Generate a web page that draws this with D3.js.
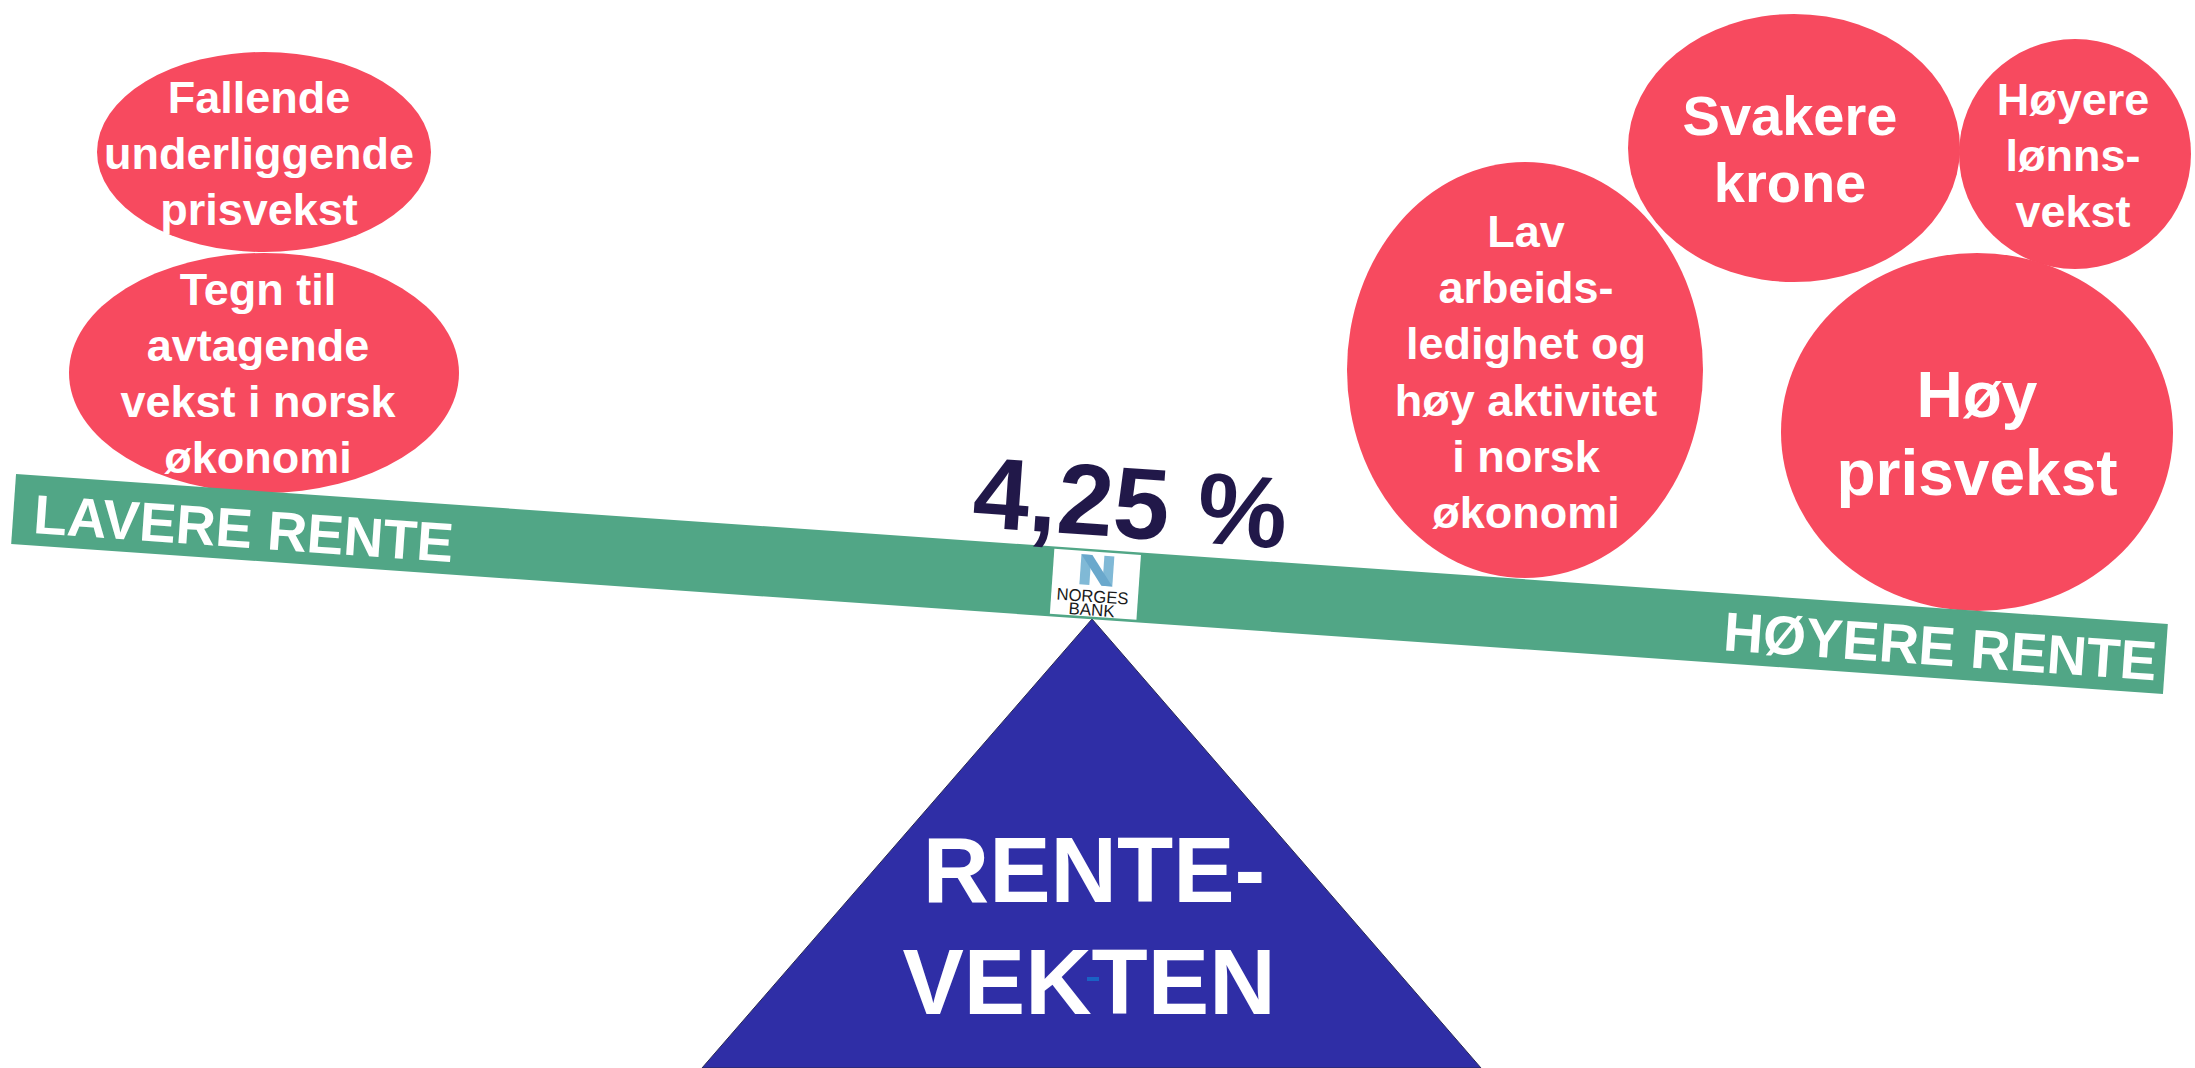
<!DOCTYPE html>
<html>
<head>
<meta charset="utf-8">
<script src="https://cdn.jsdelivr.net/npm/d3@7"></script>
<style>
  html, body { margin: 0; padding: 0; background: #ffffff; }
  svg { display: block; }
  text { font-family: "Liberation Sans", Arial, Helvetica, sans-serif; }
</style>
</head>
<body>
<div id="chart"></div>
<script>
// ---- data ----
const policyRate = "4,25 %";
const leftSideLabel = "LAVERE RENTE";
const rightSideLabel = "HØYERE RENTE";
const fulcrumLines = ["RENTE-", "VEKTEN"];
const logoLines = ["NORGES", "BANK"];

const factorFalling   = ["Fallende", "underliggende", "prisvekst"];
const factorSlowing   = ["Tegn til", "avtagende", "vekst i norsk", "økonomi"];
const factorActivity  = ["Lav", "arbeids-", "ledighet og", "høy aktivitet", "i norsk", "økonomi"];
const factorKrone     = ["Svakere", "krone"];
const factorWages     = ["Høyere", "lønns-", "vekst"];
const factorInflation = ["Høy", "prisvekst"];

// ---- layout (positions / sizes) ----
const W = 2195, H = 1068;
const colors = { bubble: "#f74a5f", beam: "#51a686", fulcrum: "#2f2ea6", rate: "#211849", logoN: "#80b9d6", logoN2: "#6aa8cc" };

const bubbleLayout = [
  { lines: factorFalling,   cx: 264,  cy: 152, rx: 167, ry: 100, tx: 259,  y0: 113, lh: 56, fs: 45 },
  { lines: factorSlowing,   cx: 264,  cy: 373, rx: 195, ry: 120, tx: 258,  y0: 305, lh: 56, fs: 45 },
  { lines: factorActivity,  cx: 1525, cy: 370, rx: 178, ry: 208, tx: 1526, y0: 247, lh: 56.2, fs: 45 },
  { lines: factorKrone,     cx: 1794, cy: 148, rx: 166, ry: 134, tx: 1790, y0: 135, lh: 67, fs: 56 },
  { lines: factorWages,     cx: 2075, cy: 154, rx: 116, ry: 115, tx: 2073, y0: 115, lh: 56, fs: 45 },
  { lines: factorInflation, cx: 1977, cy: 432, rx: 196, ry: 179, tx: 1977, y0: 417, lh: 78, fs: 64 }
];

const svg = d3.select("#chart").append("svg")
  .attr("width", W).attr("height", H)
  .attr("viewBox", `0 0 ${W} ${H}`);

svg.append("rect").attr("width", W).attr("height", H).attr("fill", "#fff");

// ---- fulcrum triangle ----
const apex = [1092, 619];
const tri = d3.line()([apex, [702, 1068], [1481, 1068]]) + "Z";
svg.append("path").attr("d", tri)
  .attr("fill", colors.fulcrum).attr("stroke", "#2a2a55").attr("stroke-width", 1);

svg.selectAll("text.fulcrum").data(fulcrumLines).join("text")
  .attr("class", "fulcrum")
  .attr("x", (d, i) => i === 0 ? 1094 : 1089)
  .attr("y", (d, i) => 902 + i * 112)
  .attr("text-anchor", "middle")
  .attr("font-size", 92).attr("font-weight", "bold")
  .attr("fill", "#fff")
  .text(d => d);

svg.append("rect").attr("x", 1087).attr("y", 977).attr("width", 12).attr("height", 4)
  .attr("fill", "#1a62c4");

// ---- bubbles ----
const bub = svg.selectAll("g.bubble").data(bubbleLayout).join("g").attr("class", "bubble");
bub.append("ellipse")
  .attr("cx", d => d.cx).attr("cy", d => d.cy)
  .attr("rx", d => d.rx).attr("ry", d => d.ry)
  .attr("fill", colors.bubble);
bub.each(function(d) {
  d3.select(this).selectAll("text").data(d.lines).join("text")
    .attr("x", d.tx)
    .attr("y", (t, i) => d.y0 + i * d.lh)
    .attr("text-anchor", "middle")
    .attr("font-size", d.fs).attr("font-weight", "bold")
    .attr("fill", "#fff")
    .text(t => t);
});

// ---- beam ----
const beamAngle = Math.atan2(150, 2152) * 180 / Math.PI;
const beam = svg.append("g")
  .attr("transform", `translate(1089.5,584) rotate(${beamAngle})`);
beam.append("rect")
  .attr("x", -1078.5).attr("y", -35).attr("width", 2157).attr("height", 70)
  .attr("fill", colors.beam);

beam.append("text").attr("x", -1058).attr("y", 22.5)
  .attr("font-size", 55).attr("font-weight", "bold").attr("fill", "#fff")
  .text(leftSideLabel);
beam.append("text").attr("x", 1070).attr("y", 22)
  .attr("text-anchor", "end")
  .attr("font-size", 55).attr("font-weight", "bold").attr("fill", "#fff")
  .text(rightSideLabel);

beam.append("text").attr("x", -122).attr("y", -49)
  .attr("font-size", 101).attr("font-weight", "bold").attr("fill", colors.rate)
  .text(policyRate);

// ---- logo ----
const logo = svg.append("g")
  .attr("transform", `translate(1095.4,584.3) rotate(${beamAngle})`);
logo.append("rect").attr("x", -43.4).attr("y", -32.5).attr("width", 86.8).attr("height", 65)
  .attr("fill", "#fff");
const nShape = d3.line();
logo.append("path").attr("d", nShape([[-16, -29], [-6, -29], [-6, 1], [-16, 1]]) + "Z").attr("fill", colors.logoN);
logo.append("path").attr("d", nShape([[7, -29], [17, -29], [17, 1], [7, 1]]) + "Z").attr("fill", colors.logoN);
logo.append("path").attr("d", nShape([[-16, -29], [-5, -29], [17, 1], [6, 1]]) + "Z").attr("fill", colors.logoN2);
logo.selectAll("text.logo").data(logoLines).join("text")
  .attr("class", "logo")
  .attr("x", -2).attr("y", (d, i) => 18 + i * 13.5)
  .attr("text-anchor", "middle")
  .attr("font-size", 17)
  .attr("textLength", (d, i) => i === 0 ? 72 : 46)
  .attr("lengthAdjust", "spacingAndGlyphs")
  .attr("fill", "#1a1a1a")
  .text(d => d);
</script>
</body>
</html>
